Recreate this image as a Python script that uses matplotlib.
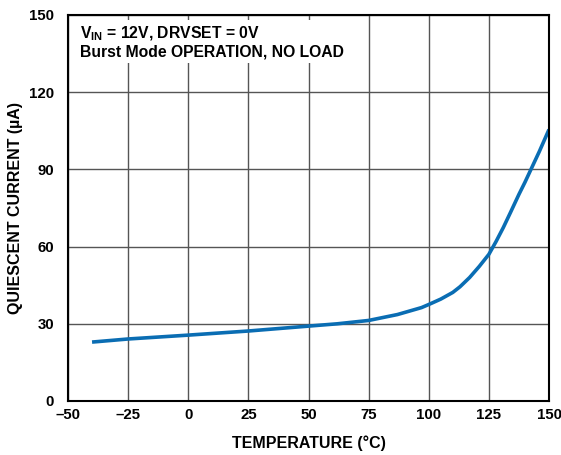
import matplotlib
matplotlib.use("Agg")
import matplotlib.pyplot as plt

temp_c = [-40, -25, 0, 25, 50, 62, 75, 87, 97, 100, 105, 110, 113, 117, 121, 125, 128, 131, 134, 137.5, 140, 142.5, 146, 150]
iq_ua = [22.9, 24.1, 25.6, 27.2, 29.1, 30.0, 31.3, 33.6, 36.3, 37.5, 39.6, 42.2, 44.4, 48.0, 52.3, 57.0, 62.0, 67.4, 73.3, 80.3, 85.0, 90.0, 97.0, 105.5]

xticks = [-50, -25, 0, 25, 50, 75, 100, 125, 150]
yticks = [0, 30, 60, 90, 120, 150]

plt.rcParams['font.family'] = ['Liberation Sans', 'DejaVu Sans']
plt.rcParams['font.weight'] = 'bold'
plt.rcParams['mathtext.fontset'] = 'custom'
plt.rcParams['mathtext.rm'] = 'Liberation Sans:bold'
plt.rcParams['mathtext.it'] = 'Liberation Sans:bold'
plt.rcParams['mathtext.bf'] = 'Liberation Sans:bold'

fig = plt.figure(figsize=(5.61, 4.55), dpi=100)
ax = fig.add_axes([68 / 561, 54 / 455, 481 / 561, 386 / 455])

ax.plot(temp_c, iq_ua, color='#0a6db3', lw=2.6, solid_capstyle='butt', solid_joinstyle='round')

ax.set_xlim(-50, 150)
ax.set_ylim(0, 150)
ax.set_xticks(xticks)
ax.set_yticks(yticks)
ax.set_xticklabels([str(t).replace('-', '\u2013') for t in xticks])
ax.grid(True, color='#555555', lw=1.0)
ax.tick_params(length=0, labelsize=10.8)
ax.tick_params(axis='x', pad=5)
ax.tick_params(axis='y', pad=10)
for s in ax.spines.values():
    s.set_linewidth(1.5)
    s.set_color('black')

ax.set_xlabel('TEMPERATURE (°C)', fontsize=11.5, fontweight='bold', labelpad=10)
ax.set_ylabel('QUIESCENT CURRENT (µA)', fontsize=11.5, fontweight='bold', labelpad=4)

ax.text(0.025, 0.975, r'V$_{\mathrm{IN}}$ = 12V, DRVSET = 0V' + '\nBurst Mode OPERATION, NO LOAD',
        transform=ax.transAxes, ha='left', va='top', fontsize=11.3, fontweight='bold',
        linespacing=1.15, bbox=dict(facecolor='white', edgecolor='none', pad=2))

fig.savefig('out.png', dpi=100)
